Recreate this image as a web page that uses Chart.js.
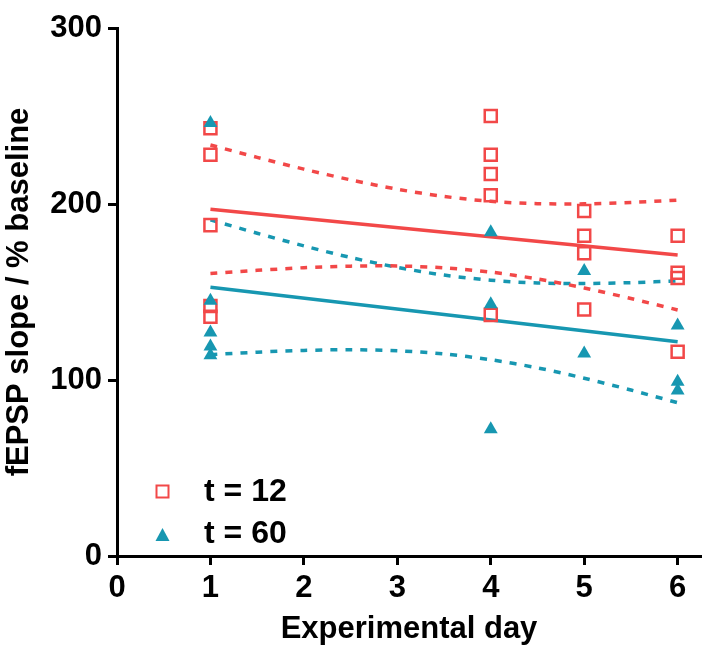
<!DOCTYPE html>
<html>
<head>
<meta charset="utf-8">
<script src="https://cdn.jsdelivr.net/npm/chart.js@4"></script>
<style>
  html, body { margin: 0; padding: 0; background: #fff; }
  #wrap { width: 716px; height: 646px; }
</style>
</head>
<body>
<div id="wrap"><canvas id="chart" width="716" height="646"></canvas></div>
<script>
// Raw data
const days12 = [1, 1, 1, 1, 1, 4, 4, 4, 4, 4, 5, 5, 5, 5, 6, 6, 6, 6];
const vals12 = [243, 228, 188, 142, 136, 250, 228, 217, 205, 137, 196, 182, 172, 140, 182, 161, 158, 116];
const days60 = [1, 1, 1, 1, 1, 4, 4, 4, 5, 5, 6, 6, 6];
const vals60 = [246, 145, 127, 119, 114, 184, 143, 72, 162, 115, 131, 99, 94];

// Regression lines
const fitDays = [1, 6];
const fit12 = [197, 171];
const fit60 = [152.7, 121.7];

// Confidence bands
const bandDays = [1, 1.5, 2, 2.5, 3, 3.5, 4, 4.5, 5, 5.5, 6];
const upper12 = [233.5, 226.5, 219.8, 213.7, 208.4, 204.3, 201.5, 200.2, 200.1, 200.9, 202.2];
const lower12 = [160.5, 162.3, 163.8, 164.7, 164.8, 163.7, 161.3, 157.4, 152.3, 146.3, 139.8];
const upper60 = [191.0, 183.4, 176.2, 169.6, 164.0, 159.6, 156.7, 155.1, 154.8, 155.3, 156.3];
const lower60 = [114.4, 115.8, 116.8, 117.2, 116.6, 114.8, 111.5, 106.9, 101.0, 94.3, 87.1];

const xTicks = [0, 1, 2, 3, 4, 5, 6];
const yTicks = [0, 100, 200, 300];
const legendLabels = ['t = 12', 't = 60'];

const RED = '#F24848';
const TEAL = '#1797B1';
const FONT = '"Liberation Sans", Arial, sans-serif';

const pts = (xs, ys) => xs.map((x, i) => ({ x: x, y: ys[i] }));

function lineSet(xs, ys, color, dashed) {
    return {
        data: pts(xs, ys),
        showLine: true,
        borderColor: color,
        borderWidth: 3.5,
        borderDash: dashed ? [7, 8] : [],
        pointRadius: 0,
        tension: 0.3,
        fill: false,
        order: 5,
    };
}

// Legend drawn inside the plot, bottom left
const legendPlugin = {
    id: 'innerLegend',
    afterDraw(chart) {
        const ctx = chart.ctx;
        ctx.save();
        // square
        ctx.strokeStyle = RED;
        ctx.lineWidth = 2;
        ctx.strokeRect(156.5, 485.5, 12, 12);
        // triangle
        ctx.fillStyle = TEAL;
        ctx.beginPath();
        ctx.moveTo(162.5, 528);
        ctx.lineTo(169.5, 541);
        ctx.lineTo(155.5, 541);
        ctx.closePath();
        ctx.fill();
        ctx.fillStyle = '#000';
        ctx.font = 'bold 32px ' + FONT;
        ctx.textBaseline = 'middle';
        ctx.textAlign = 'left';
        ctx.fillText(legendLabels[0], 204, 492);
        ctx.fillText(legendLabels[1], 204, 534);
        ctx.restore();
    }
};

new Chart(document.getElementById('chart'), {
    type: 'scatter',
    data: {
        datasets: [
            {
                data: pts(days60, vals60),
                pointStyle: 'triangle',
                pointRadius: 8,
                pointHoverRadius: 8,
                backgroundColor: TEAL,
                borderColor: TEAL,
                borderWidth: 0,
                order: 0,
            },
            {
                data: pts(days12, vals12),
                pointStyle: 'rect',
                pointRadius: 8.5,
                pointHoverRadius: 8.5,
                backgroundColor: 'rgba(0,0,0,0)',
                borderColor: RED,
                borderWidth: 2.5,
                order: 1,
            },
            lineSet(fitDays, fit12, RED, false),
            lineSet(bandDays, upper12, RED, true),
            lineSet(bandDays, lower12, RED, true),
            lineSet(fitDays, fit60, TEAL, false),
            lineSet(bandDays, upper60, TEAL, true),
            lineSet(bandDays, lower60, TEAL, true),
        ]
    },
    options: {
        responsive: false,
        animation: false,
        layout: { padding: { top: 28, right: 15, left: 0, bottom: 0 } },
        plugins: {
            legend: { display: false },
            tooltip: { enabled: false },
        },
        scales: {
            x: {
                type: 'linear',
                min: 0,
                max: 6.25,
                afterBuildTicks: s => { s.ticks = xTicks.map(v => ({ value: v })); },
                afterFit: s => { s.height = 90; },
                grid: { drawOnChartArea: false, drawTicks: true, tickLength: 9, tickWidth: 3, tickColor: '#000' },
                border: { display: true, width: 3, color: '#000' },
                ticks: { color: '#000', padding: 5, maxRotation: 0, font: { family: FONT, size: 31, weight: 'bold' } },
                title: { display: true, text: 'Experimental day', color: '#000', padding: { top: 10, bottom: -2 }, font: { family: FONT, size: 31, weight: 'bold' } },
            },
            y: {
                type: 'linear',
                min: 0,
                max: 300,
                afterBuildTicks: s => { s.ticks = yTicks.map(v => ({ value: v })); },
                afterFit: s => { s.width = 117; },
                grid: { drawOnChartArea: false, drawTicks: true, tickLength: 9, tickWidth: 3, tickColor: '#000' },
                border: { display: true, width: 3, color: '#000' },
                ticks: { color: '#000', padding: 6, font: { family: FONT, size: 31, weight: 'bold' } },
                title: { display: true, text: 'fEPSP slope / % baseline', color: '#000', padding: { top: 1, bottom: 0 }, font: { family: FONT, size: 31, weight: 'bold' } },
            }
        }
    },
    plugins: [legendPlugin]
});
</script>
</body>
</html>
